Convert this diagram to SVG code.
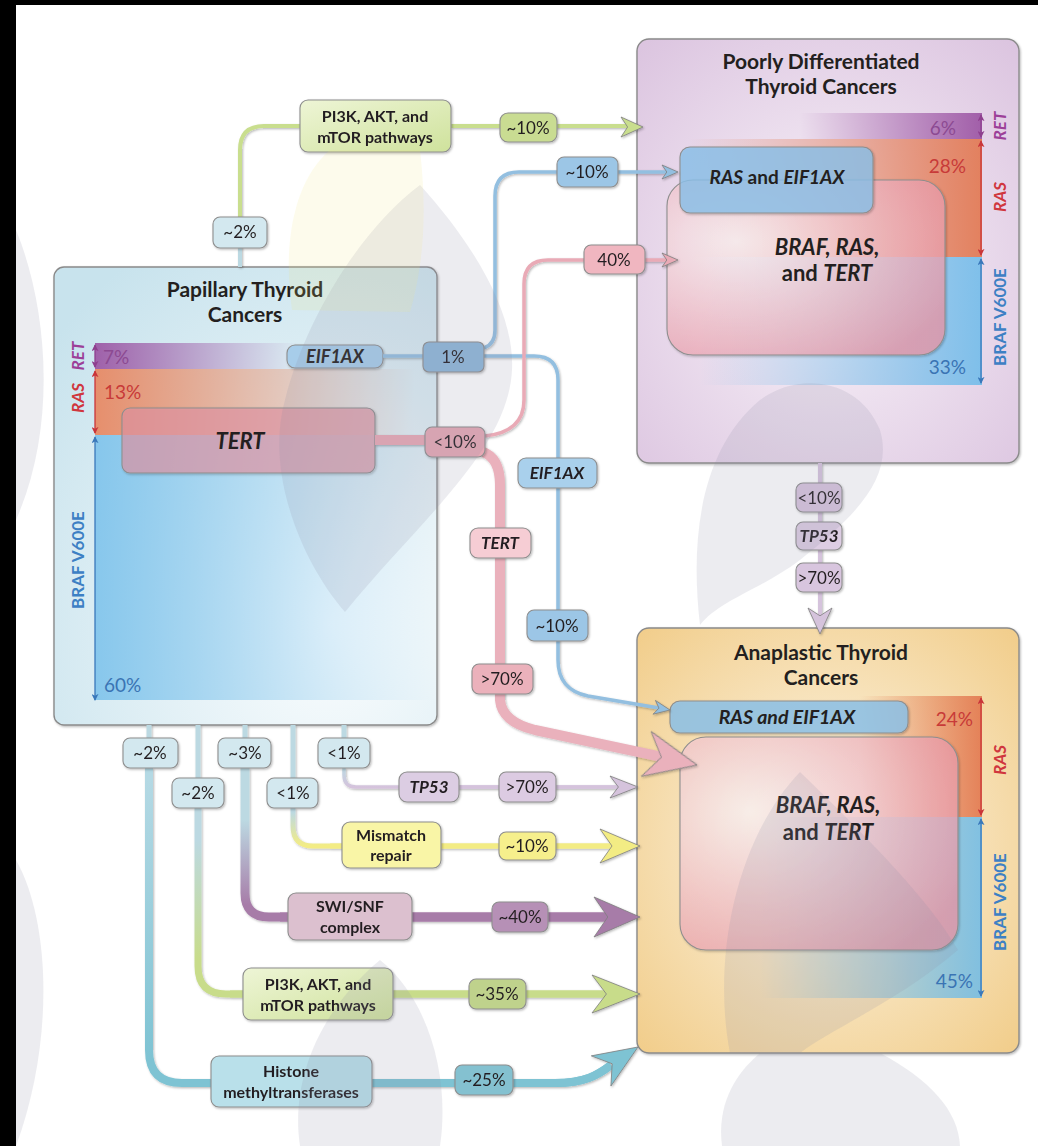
<svg xmlns="http://www.w3.org/2000/svg" width="1038" height="1146" viewBox="0 0 1038 1146">
<defs>
<style>
text{font-family:Lato,"Open Sans","DejaVu Sans",sans-serif;fill:#231f20}
.t{font-size:21px;font-weight:700;text-anchor:middle}
.lb{font-size:16px;font-weight:700;text-anchor:middle}
.pc{font-size:17px;text-anchor:middle}
.bi{font-size:17px;font-weight:700;font-style:italic;text-anchor:middle}
.it{font-style:italic}
.box{stroke:#8e8e8e;stroke-width:1.1}
.big{stroke:#8a8a8a;stroke-width:1.4}
.c{fill:none;stroke-linejoin:round}
.rot{font-size:17px;font-weight:700;text-anchor:middle}
.bp{font-size:19px;font-weight:400}
.dbl{stroke-width:1.3}
.wm{fill:#8e8ea4;fill-opacity:0.17}
.wy{fill:#efe27a;fill-opacity:0.14}
</style>
<filter id="sh" x="-10%" y="-10%" width="130%" height="130%"><feDropShadow dx="1" dy="1.2" stdDeviation="1.2" flood-color="#000" flood-opacity="0.28"/></filter>
<radialGradient id="gPTC" cx="0.72" cy="0.78" r="0.95"><stop offset="0" stop-color="#fbfdfe"/><stop offset="1" stop-color="#c8e3ed"/></radialGradient>
<radialGradient id="gPD" cx="0.5" cy="0.55" r="0.72"><stop offset="0" stop-color="#faf5fa"/><stop offset="1" stop-color="#dcc5e0"/></radialGradient>
<radialGradient id="gAT" cx="0.5" cy="0.5" r="0.72"><stop offset="0" stop-color="#fdf7ea"/><stop offset="1" stop-color="#f1cc88"/></radialGradient>
<radialGradient id="gPink" cx="0.25" cy="0.35" r="0.85"><stop offset="0" stop-color="#fff6f7"/><stop offset="1" stop-color="#ee98a8"/></radialGradient>
<linearGradient id="lRET" x1="0" x2="1"><stop offset="0" stop-color="#9a52a2" stop-opacity="0.9"/><stop offset="1" stop-color="#9a52a2" stop-opacity="0"/></linearGradient>
<linearGradient id="lRAS" x1="0" x2="1"><stop offset="0" stop-color="#ea7f55" stop-opacity="0.85"/><stop offset="1" stop-color="#ea7f55" stop-opacity="0"/></linearGradient>
<linearGradient id="lBRAF" x1="0" x2="1"><stop offset="0" stop-color="#6cbbea" stop-opacity="0.75"/><stop offset="0.6" stop-color="#6cbbea" stop-opacity="0.3"/><stop offset="1" stop-color="#6cbbea" stop-opacity="0"/></linearGradient>
<linearGradient id="rRET" x1="1" x2="0"><stop offset="0" stop-color="#9a52a2" stop-opacity="0.9"/><stop offset="1" stop-color="#9a52a2" stop-opacity="0"/></linearGradient>
<linearGradient id="rRAS" x1="1" x2="0"><stop offset="0" stop-color="#e2774f" stop-opacity="0.9"/><stop offset="1" stop-color="#e2774f" stop-opacity="0"/></linearGradient>
<linearGradient id="rBRAF" x1="1" x2="0"><stop offset="0" stop-color="#6cbbea" stop-opacity="0.85"/><stop offset="1" stop-color="#6cbbea" stop-opacity="0"/></linearGradient>
<linearGradient id="gGreen" x1="0" y1="0" x2="1" y2="1"><stop offset="0" stop-color="#eef5d6"/><stop offset="1" stop-color="#cfe29c"/></linearGradient>
<linearGradient id="vSWI" gradientUnits="userSpaceOnUse" x1="0" y1="820" x2="0" y2="905"><stop offset="0" stop-color="#bcd9e2"/><stop offset="1" stop-color="#a77ca8"/></linearGradient>
<linearGradient id="vPI" gradientUnits="userSpaceOnUse" x1="0" y1="840" x2="0" y2="960"><stop offset="0" stop-color="#bcd9e2"/><stop offset="1" stop-color="#c8dc8a"/></linearGradient>
<linearGradient id="vMM" gradientUnits="userSpaceOnUse" x1="0" y1="812" x2="0" y2="846"><stop offset="0" stop-color="#bcd9e2"/><stop offset="1" stop-color="#f3ec84"/></linearGradient>
<linearGradient id="vHM" gradientUnits="userSpaceOnUse" x1="0" y1="780" x2="0" y2="1060"><stop offset="0" stop-color="#b4d9e4"/><stop offset="1" stop-color="#7ec3d3"/></linearGradient>
<linearGradient id="vTP" gradientUnits="userSpaceOnUse" x1="0" y1="768" x2="0" y2="787"><stop offset="0" stop-color="#bcd9e2"/><stop offset="1" stop-color="#d5c3dc"/></linearGradient>
<path id="ah" d="M0,0 L-1,-0.5 L-0.7,0 L-1,0.5 Z" stroke="#7d7d7d" stroke-width="0.8" vector-effect="non-scaling-stroke"/>
<marker id="dP" viewBox="0 0 8 8" refX="7" refY="4" markerWidth="7" markerHeight="7" orient="auto-start-reverse" markerUnits="userSpaceOnUse"><path d="M0,0 L8,4 L0,8 L2,4Z" fill="#8e3f8e"/></marker>
<marker id="dR" viewBox="0 0 8 8" refX="7" refY="4" markerWidth="7" markerHeight="7" orient="auto-start-reverse" markerUnits="userSpaceOnUse"><path d="M0,0 L8,4 L0,8 L2,4Z" fill="#c9353a"/></marker>
<marker id="dB" viewBox="0 0 8 8" refX="7" refY="4" markerWidth="7" markerHeight="7" orient="auto-start-reverse" markerUnits="userSpaceOnUse"><path d="M0,0 L8,4 L0,8 L2,4Z" fill="#3a78ba"/></marker>
</defs>

<rect width="1038" height="1146" fill="#ffffff"/>

<!-- Papillary Thyroid Cancers -->
<g id="ptc">
<rect x="54" y="267" width="383" height="458" rx="10" fill="url(#gPTC)" class="big" filter="url(#sh)"/>
<text class="t" x="245" y="297">Papillary Thyroid</text>
<text class="t" x="245" y="322">Cancers</text>
<rect x="95" y="343" width="205" height="26" fill="url(#lRET)"/>
<rect x="95" y="369" width="320" height="66" fill="url(#lRAS)"/>
<rect x="95" y="435" width="340" height="265" fill="url(#lBRAF)"/>
<line x1="95" y1="345" x2="95" y2="367" stroke="#8e3f8e" class="dbl" marker-start="url(#dP)" marker-end="url(#dP)"/>
<line x1="95" y1="371" x2="95" y2="433" stroke="#c9353a" class="dbl" marker-start="url(#dR)" marker-end="url(#dR)"/>
<line x1="95" y1="437" x2="95" y2="700" stroke="#3a78ba" class="dbl" marker-start="url(#dB)" marker-end="url(#dB)"/>
<text class="rot it" transform="translate(84,356) rotate(-90)" style="fill:#9c3f98">RET</text>
<text class="rot it" transform="translate(84,398) rotate(-90)" style="fill:#d0363e">RAS</text>
<text class="rot" transform="translate(84,560) rotate(-90)" style="fill:#3d80c4">BRAF V600E</text>
<text class="bp" x="103" y="364" style="fill:#8c4a92">7%</text>
<text class="bp" x="104" y="399" style="fill:#c83a38">13%</text>
<text class="bp" x="104" y="692" style="fill:#3a74b4">60%</text>
<rect x="122" y="408" width="253" height="65" rx="8" fill="#e596a6" fill-opacity="0.62" class="box" filter="url(#sh)"/>
<text x="240" y="449" class="bi" style="font-size:22px">TERT</text>
<rect x="287" y="345" width="96" height="23" rx="8" fill="#a7cdea" class="box" filter="url(#sh)"/>
<text x="335" y="363" class="bi" style="font-size:18px">EIF1AX</text>
</g>

<!-- Poorly Differentiated Thyroid Cancers -->
<g id="pdtc">
<rect x="637" y="39" width="382" height="424" rx="12" fill="url(#gPD)" class="big" filter="url(#sh)"/>
<text class="t" x="821" y="69">Poorly Differentiated</text>
<text class="t" x="821" y="94">Thyroid Cancers</text>
<rect x="800" y="113" width="182" height="26" fill="url(#rRET)"/>
<rect x="690" y="139" width="292" height="118" fill="url(#rRAS)"/>
<rect x="700" y="257" width="282" height="128" fill="url(#rBRAF)"/>
<line x1="981" y1="115" x2="981" y2="137" stroke="#8e3f8e" class="dbl" marker-start="url(#dP)" marker-end="url(#dP)"/>
<line x1="981" y1="141" x2="981" y2="255" stroke="#c9353a" class="dbl" marker-start="url(#dR)" marker-end="url(#dR)"/>
<line x1="981" y1="259" x2="981" y2="383" stroke="#3a78ba" class="dbl" marker-start="url(#dB)" marker-end="url(#dB)"/>
<text class="rot it" transform="translate(1006,126) rotate(-90)" style="fill:#9c3f98">RET</text>
<text class="rot it" transform="translate(1006,197) rotate(-90)" style="fill:#d0363e">RAS</text>
<text class="rot" transform="translate(1006,317) rotate(-90)" style="fill:#3d80c4">BRAF V600E</text>
<text class="bp" x="956" y="135" text-anchor="end" style="fill:#8c4a92">6%</text>
<text class="bp" x="966" y="173" text-anchor="end" style="fill:#c83a38">28%</text>
<text class="bp" x="966" y="374" text-anchor="end" style="fill:#3a74b4">33%</text>
<rect x="667" y="180" width="278" height="175" rx="26" fill="url(#gPink)" fill-opacity="0.72" class="box" filter="url(#sh)"/>
<text x="827" y="255" class="bi" style="font-size:22px">BRAF, RAS,</text>
<text x="827" y="281" class="lb" style="font-size:22px">and <tspan class="it">TERT</tspan></text>
<rect x="680" y="147" width="193" height="66" rx="10" fill="#8cc3ec" fill-opacity="0.78" class="box" filter="url(#sh)"/>
<text x="777" y="184" class="lb" style="font-size:19px"><tspan class="it">RAS</tspan> and <tspan class="it">EIF1AX</tspan></text>
</g>

<!-- Anaplastic Thyroid Cancers -->
<g id="atc">
<rect x="637" y="628" width="382" height="425" rx="12" fill="url(#gAT)" class="big" filter="url(#sh)"/>
<text class="t" x="821" y="660">Anaplastic Thyroid</text>
<text class="t" x="821" y="685">Cancers</text>
<rect x="860" y="696" width="122" height="121" fill="url(#rRAS)"/>
<rect x="760" y="817" width="222" height="181" fill="url(#rBRAF)"/>
<line x1="981" y1="698" x2="981" y2="815" stroke="#c9353a" class="dbl" marker-start="url(#dR)" marker-end="url(#dR)"/>
<line x1="981" y1="819" x2="981" y2="996" stroke="#3a78ba" class="dbl" marker-start="url(#dB)" marker-end="url(#dB)"/>
<text class="rot it" transform="translate(1006,760) rotate(-90)" style="fill:#d0363e">RAS</text>
<text class="rot" transform="translate(1006,902) rotate(-90)" style="fill:#3d80c4">BRAF V600E</text>
<text class="bp" x="973" y="726" text-anchor="end" style="fill:#c83a38">24%</text>
<text class="bp" x="973" y="988" text-anchor="end" style="fill:#3a74b4">45%</text>
<rect x="680" y="737" width="278" height="213" rx="26" fill="url(#gPink)" fill-opacity="0.72" class="box" filter="url(#sh)"/>
<text x="828" y="813" class="bi" style="font-size:22px">BRAF, RAS,</text>
<text x="828" y="840" class="lb" style="font-size:22px">and <tspan class="it">TERT</tspan></text>
<rect x="670" y="701" width="238" height="32" rx="10" fill="#8cc3ec" fill-opacity="0.8" class="box" filter="url(#sh)"/>
<text x="787" y="724" class="bi" style="font-size:19.5px">RAS and EIF1AX</text>
</g>

<!-- Connectors -->
<g id="connectors" filter="url(#sh)">
<path class="c" d="M240,267 V232" stroke="#bcd9e2" stroke-width="4"/>
<path class="c" d="M240,232 V150 Q240,126 264,126 H300" stroke="#c9de8e" stroke-width="4"/>
<path class="c" d="M451,126 H628" stroke="#c9de8e" stroke-width="4"/>
<use href="#ah" transform="translate(643,127) scale(22,20)" fill="#c9de8e"/>
<path class="c" d="M383,356 H423" stroke="#93bfe0" stroke-width="3.5"/>
<path class="c" d="M484,348 Q495,344 495,330 V196 Q495,172 519,172 H667" stroke="#93bfe0" stroke-width="3.5"/>
<use href="#ah" transform="translate(678,172) scale(16,14)" fill="#93bfe0"/>
<path class="c" d="M484,356 H534 Q558,356 558,380 V660 Q558,690 588,696 L659,708" stroke="#93bfe0" stroke-width="3.5"/>
<use href="#ah" transform="translate(670,710) rotate(9.7) scale(16,14)" fill="#93bfe0"/>
<path class="c" d="M375,440 H425" stroke="#e8a9b5" stroke-width="10"/>
<path class="c" d="M485,436 Q524,432 524,400 V284 Q524,260 548,260 H667" stroke="#e9aab6" stroke-width="3.5"/>
<use href="#ah" transform="translate(678,260) scale(16,14)" fill="#e9aab6"/>
<path class="c" d="M483,452 Q500,458 500,485 V700 Q502,722 535,730 L662,757" stroke="#eab1bc" stroke-width="10"/>
<use href="#ah" transform="translate(697,765) rotate(12.3) scale(52,46)" fill="#eab1bc"/>
<path class="c" d="M820,463 V616" stroke="#d5c3dc" stroke-width="4"/>
<use href="#ah" transform="translate(820,634) rotate(90) scale(26,24)" fill="#d5c3dc"/>
<path class="c" d="M149,725 V738 M198,725 V778 M245,725 V738 M293,725 V778 M344,725 V738" stroke="#bcd9e2" stroke-width="5"/>
<path class="c" d="M344,768 V775 Q344,787 356,787 H618" stroke="url(#vTP)" stroke-width="3.5"/>
<path class="c" d="M399,787 H618" stroke="#d5c3dc" stroke-width="3.5"/>
<use href="#ah" transform="translate(638,787) scale(28,22)" fill="#d5c3dc"/>
<path class="c" d="M293,808 V826 Q293,846 313,846 H612" stroke="url(#vMM)" stroke-width="5"/>
<path class="c" d="M330,846 H612" stroke="#f3ec84" stroke-width="5"/>
<use href="#ah" transform="translate(640,846) scale(40,34)" fill="#f3ec84"/>
<path class="c" d="M245,768 V893 Q245,917 269,917 H608" stroke="url(#vSWI)" stroke-width="9"/>
<path class="c" d="M280,917 H608" stroke="#a77ca8" stroke-width="9"/>
<use href="#ah" transform="translate(640,917) scale(46,40)" fill="#a77ca8"/>
<path class="c" d="M198,808 V966 Q198,994 226,994 H606" stroke="url(#vPI)" stroke-width="7"/>
<path class="c" d="M230,994 H606" stroke="#c8dc8a" stroke-width="7"/>
<use href="#ah" transform="translate(640,994) scale(48,38)" fill="#c8dc8a"/>
<path class="c" d="M149,768 V1050 Q149,1083 182,1083 H555 C585,1083 598,1075 611,1065" stroke="url(#vHM)" stroke-width="8"/>
<path class="c" d="M200,1083 H555 C585,1083 598,1075 611,1065" stroke="#7ec3d3" stroke-width="8"/>
<use href="#ah" transform="translate(638,1047) rotate(-33) scale(44,36)" fill="#7ec3d3"/>
</g>

<!-- Label nodes -->
<g id="n-top2" filter="url(#sh)"><rect x="213" y="217" width="54" height="31" rx="7" fill="#d3e8ef" class="box"/><text class="pc" x="240" y="238">~2%</text></g>
<g id="n-pi3k-top" filter="url(#sh)"><rect x="300" y="100" width="151" height="52" rx="8" fill="url(#gGreen)" class="box"/><text class="lb" x="375" y="122">PI3K, AKT, and</text><text class="lb" x="375" y="143">mTOR pathways</text></g>
<g id="n-top10g" filter="url(#sh)"><rect x="500" y="113" width="57" height="29" rx="8" fill="#c9dc92" class="box"/><text class="pc" x="528" y="134">~10%</text></g>
<g id="n-1pct" filter="url(#sh)"><rect x="423" y="342" width="61" height="30" rx="6" fill="#8fb7d9" class="box"/><text class="pc" x="453" y="363">1%</text></g>
<g id="n-top10b" filter="url(#sh)"><rect x="557" y="157" width="61" height="30" rx="7" fill="#9cc6e6" class="box"/><text class="pc" x="587" y="178">~10%</text></g>
<g id="n-40" filter="url(#sh)"><rect x="584" y="245" width="61" height="29" rx="7" fill="#f0b6c0" class="box"/><text class="pc" x="614" y="266">40%</text></g>
<g id="n-lt10" filter="url(#sh)"><rect x="425" y="427" width="60" height="30" rx="7" fill="#e6a9b5" class="box"/><text class="pc" x="455" y="448">&lt;10%</text></g>
<g id="n-eif-mid" filter="url(#sh)"><rect x="518" y="458" width="79" height="30" rx="8" fill="#a9d0ec" class="box"/><text class="bi" x="557" y="479">EIF1AX</text></g>
<g id="n-tert-mid" filter="url(#sh)"><rect x="470" y="528" width="61" height="30" rx="8" fill="#f6cdd4" class="box"/><text class="bi" x="500" y="549">TERT</text></g>
<g id="n-mid10b" filter="url(#sh)"><rect x="527" y="610" width="61" height="31" rx="7" fill="#9cc6e6" class="box"/><text class="pc" x="557" y="632">~10%</text></g>
<g id="n-gt70p" filter="url(#sh)"><rect x="472" y="664" width="61" height="30" rx="7" fill="#ebb1bb" class="box"/><text class="pc" x="502" y="685">&gt;70%</text></g>
<g id="n-pd-lt10" filter="url(#sh)"><rect x="796" y="483" width="46" height="29" rx="7" fill="#d8c5de" class="box"/><text class="pc" x="819" y="504">&lt;10%</text></g>
<g id="n-pd-tp53" filter="url(#sh)"><rect x="796" y="522" width="46" height="28" rx="7" fill="#ddcde3" class="box"/><text class="bi" x="819" y="542">TP53</text></g>
<g id="n-pd-gt70" filter="url(#sh)"><rect x="796" y="563" width="46" height="29" rx="7" fill="#d8c5de" class="box"/><text class="pc" x="819" y="584">&gt;70%</text></g>
<g id="n-b2a" filter="url(#sh)"><rect x="123" y="738" width="55" height="30" rx="7" fill="#d3e8ef" class="box"/><text class="pc" x="150" y="759">~2%</text></g>
<g id="n-b2b" filter="url(#sh)"><rect x="172" y="778" width="52" height="30" rx="7" fill="#d3e8ef" class="box"/><text class="pc" x="198" y="799">~2%</text></g>
<g id="n-b3" filter="url(#sh)"><rect x="218" y="738" width="53" height="30" rx="7" fill="#d3e8ef" class="box"/><text class="pc" x="245" y="759">~3%</text></g>
<g id="n-b1a" filter="url(#sh)"><rect x="267" y="778" width="51" height="30" rx="7" fill="#d3e8ef" class="box"/><text class="pc" x="293" y="799">&lt;1%</text></g>
<g id="n-b1b" filter="url(#sh)"><rect x="318" y="738" width="52" height="30" rx="7" fill="#d3e8ef" class="box"/><text class="pc" x="344" y="759">&lt;1%</text></g>
<g id="n-tp53" filter="url(#sh)"><rect x="399" y="772" width="60" height="30" rx="8" fill="#dccde3" class="box"/><text class="bi" x="429" y="793">TP53</text></g>
<g id="n-tp53-70" filter="url(#sh)"><rect x="499" y="772" width="57" height="30" rx="7" fill="#dccbe2" class="box"/><text class="pc" x="527" y="793">&gt;70%</text></g>
<g id="n-mmr" filter="url(#sh)"><rect x="342" y="822" width="99" height="46" rx="8" fill="#f9f5a6" class="box"/><text class="lb" x="391" y="841">Mismatch</text><text class="lb" x="391" y="861">repair</text></g>
<g id="n-mmr-10" filter="url(#sh)"><rect x="499" y="832" width="57" height="28" rx="7" fill="#f6ef8c" class="box"/><text class="pc" x="527" y="852">~10%</text></g>
<g id="n-swi" filter="url(#sh)"><rect x="288" y="893" width="124" height="47" rx="8" fill="#dcc0cf" class="box"/><text class="lb" x="350" y="912">SWI/SNF</text><text class="lb" x="350" y="933">complex</text></g>
<g id="n-swi-40" filter="url(#sh)"><rect x="492" y="902" width="56" height="30" rx="7" fill="#b690b6" class="box"/><text class="pc" x="520" y="923">~40%</text></g>
<g id="n-pi3k-bot" filter="url(#sh)"><rect x="243" y="968" width="150" height="52" rx="8" fill="url(#gGreen)" class="box"/><text class="lb" x="318" y="990">PI3K, AKT, and</text><text class="lb" x="318" y="1011">mTOR pathways</text></g>
<g id="n-pi3k-35" filter="url(#sh)"><rect x="469" y="979" width="57" height="30" rx="7" fill="#bfd28c" class="box"/><text class="pc" x="497" y="1000">~35%</text></g>
<g id="n-hmt" filter="url(#sh)"><rect x="211" y="1056" width="161" height="51" rx="8" fill="#b9e0ea" class="box"/><text class="lb" x="291" y="1077">Histone</text><text class="lb" x="291" y="1098">methyltransferases</text></g>
<g id="n-hmt-25" filter="url(#sh)"><rect x="455" y="1065" width="58" height="30" rx="7" fill="#84c1d0" class="box"/><text class="pc" x="484" y="1086">~25%</text></g>

<!-- faint background watermark shapes -->
<g id="watermark">
<path class="wm" d="M345,612 C300,560 265,470 285,400 C305,320 360,230 420,185 C470,240 515,310 512,370 C508,450 420,520 345,612 Z"/>
<path class="wy" d="M292,310 C282,240 295,180 330,150 L420,150 C428,220 422,270 410,312 Z"/>
<path class="wm" d="M700,625 C690,540 700,450 760,400 C800,370 860,380 880,430 C895,480 850,520 800,560 C760,590 720,600 700,625 Z"/>
<path class="wm" d="M730,1053 C712,960 735,840 800,772 C860,830 930,900 958,950 C900,1000 830,1030 800,1053 Z"/>
<path class="wm" d="M300,1146 C290,1080 320,1010 380,960 C430,1000 450,1080 440,1146 Z"/>
<path class="wm" d="M722,1146 C716,1100 740,1070 760,1053 L880,1053 C930,1080 958,1110 960,1146 Z"/>
<path class="wm" d="M16,230 C45,300 60,420 16,520 Z"/>
<path class="wm" d="M16,860 C50,920 55,1040 16,1146 Z"/>
</g>

<rect x="0" y="0" width="16" height="1146" fill="#000"/>
<rect x="0" y="0" width="1038" height="5" fill="#000"/>
</svg>
